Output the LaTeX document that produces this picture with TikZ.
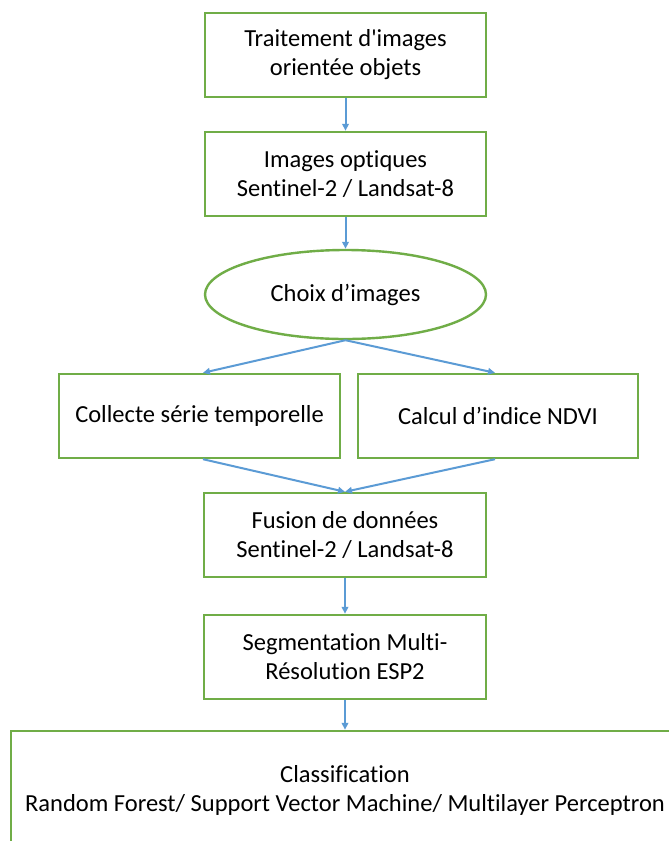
\documentclass[tikz,border=0pt]{standalone}
\usepackage{fontspec}
\setmainfont{Carlito}[Ligatures={TeXOff,CommonOff}]
\usetikzlibrary{arrows.meta,shapes.geometric}
\definecolor{boxgreen}{RGB}{112,173,71}
\definecolor{arrowblue}{RGB}{91,155,213}
\tikzset{
  stepbox/.style={draw=boxgreen, line width=2.4pt, fill=white, rectangle, inner sep=0pt,
    align=center, font=\fontsize{24.5}{29}\selectfont, text=black},
  choice/.style={draw=boxgreen, line width=2.4pt, fill=white, ellipse, inner sep=0pt,
    align=center, font=\fontsize{24.5}{29}\selectfont, text=black},
  flow/.style={draw=arrowblue, line width=2pt, -{Triangle[length=7pt,width=6.5pt]}},
}
\begin{document}
\begin{tikzpicture}[x=1pt,y=-1pt]
\useasboundingbox (0,0) rectangle (669,841);
\clip (0,0) rectangle (669,841);
\fill[white] (0,0) rectangle (669,841);
\node[stepbox, minimum width=281pt, minimum height=84pt] (b1) at (345.5,55) {Traitement d'images\\orientée objets};
\node[stepbox, minimum width=281pt, minimum height=84pt] (b2) at (345.5,174) {Images optiques\\Sentinel-2 / Landsat-8};
\node[choice, minimum width=281pt, minimum height=89pt] (e) at (345.5,294.5) {Choix d’images};
\node[stepbox, minimum width=281pt, minimum height=84pt] (b3) at (199.5,416) {Collecte série temporelle};
\node[stepbox, minimum width=280pt, minimum height=84pt] (b4) at (498,416) {Calcul d’indice NDVI};
\node[stepbox, minimum width=282pt, minimum height=84pt] (b5) at (345,535) {Fusion de données\\Sentinel-2 / Landsat-8};
\node[stepbox, minimum width=282pt, minimum height=84pt] (b6) at (345,657) {Segmentation Multi-\\Résolution ESP2};
\node[stepbox, minimum width=668pt, minimum height=119pt] (b7) at (345,790.5) {Classification\\Random Forest/ Support Vector Machine/ Multilayer Perceptron};
\draw[flow] (b1.south) -- (b2.north);
\draw[flow] (b2.south) -- (e.north);
\draw[flow] (e.south) -- ([xshift=3.5pt]b3.north);
\draw[flow] (e.south) -- ([xshift=-3pt]b4.north);
\draw[flow] ([xshift=3.5pt]b3.south) -- (b5.north);
\draw[flow] ([xshift=-3pt]b4.south) -- (b5.north);
\draw[flow] (b5.south) -- (b6.north);
\draw[flow] (b6.south) -- (b7.north);
\end{tikzpicture}
\end{document}
